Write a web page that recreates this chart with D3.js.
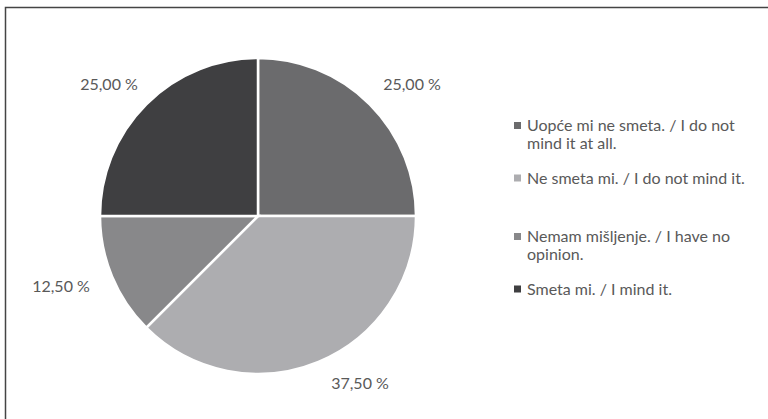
<!DOCTYPE html>
<html lang="en">
<head>
<meta charset="UTF-8">
<title>Pie</title>
<script src="https://cdn.jsdelivr.net/npm/d3@7"></script>
<style>
  body { margin: 0; background: #fff; }
  text { font-family: Lato, "Open Sans", sans-serif; fill: #595959; }
</style>
</head>
<body>
<script>
const categories = [
  ["Uopće mi ne smeta. / I do not", "mind it at all."],
  ["Ne smeta mi. / I do not mind it."],
  ["Nemam mišljenje. / I have no", "opinion."],
  ["Smeta mi. / I mind it."]
];
const values = [25, 37.5, 12.5, 25];
const labels = ["25,00 %", "37,50 %", "12,50 %", "25,00 %"];
const colors = ["#6b6b6d", "#adadb0", "#88888a", "#3f3f41"];

const w = 768, h = 419;
const svg = d3.select("body").append("svg").attr("width", w).attr("height", h);

// frame (only top and left edges visible in the crop)
svg.append("rect").attr("x", 5.5).attr("y", 7.5).attr("width", 800).attr("height", 500)
  .attr("fill", "none").attr("stroke", "#444").attr("stroke-width", 1.5);

const cx = 258, cy = 216, r = 158;
const pie = d3.pie().sort(null).value(d => d);
const arcs = pie(values);
const arc = d3.arc().innerRadius(0).outerRadius(r);

const g = svg.append("g").attr("transform", `translate(${cx},${cy})`);
g.selectAll("path").data(arcs).enter().append("path")
  .attr("d", arc)
  .attr("fill", (d, i) => colors[i])
  .attr("stroke", "#fff").attr("stroke-width", 2.5);

const labelPos = [[154, -132], [102, 167], [-197, 70], [-149, -132]];
g.selectAll("text.lbl").data(arcs).enter().append("text")
  .attr("class", "lbl")
  .attr("x", (d, i) => labelPos[i][0])
  .attr("y", (d, i) => labelPos[i][1])
  .attr("dy", "0.35em")
  .attr("text-anchor", "middle")
  .attr("font-size", 16)
  .text((d, i) => labels[i]);

// legend
const legendY = [125.5, 178, 236.5, 289];
const lg = svg.append("g");
categories.forEach((lines, i) => {
  lg.append("rect").attr("x", 514).attr("y", legendY[i] - 3.5).attr("width", 7).attr("height", 7)
    .attr("fill", colors[i]);
  lines.forEach((t, j) => {
    lg.append("text").attr("x", 527).attr("y", legendY[i] + j * 18)
      .attr("dy", "0.35em").attr("font-size", 16).text(t);
  });
});
</script>
</body>
</html>
